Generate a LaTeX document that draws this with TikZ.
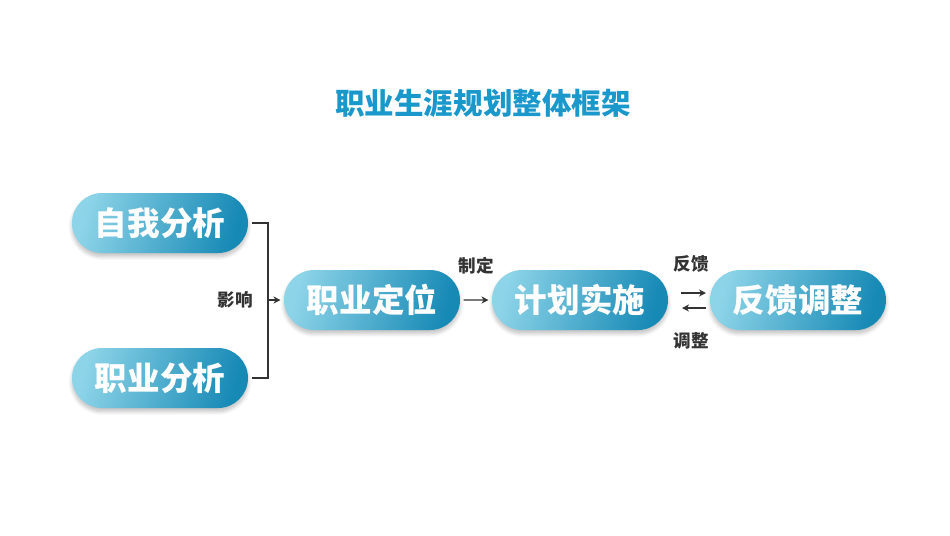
\documentclass[tikz,border=0pt]{standalone}
\usepackage{xcolor}
\usepackage{fontspec}
\setmainfont{Noto Sans CJK SC}
\usepackage{tikz}
\usetikzlibrary{positioning,shapes.misc,shadows.blur,arrows.meta}

\definecolor{pilllight}{HTML}{8DD4E8}
\definecolor{pilldark}{HTML}{1689B5}
\definecolor{titleblue}{HTML}{1A98CC}
\definecolor{linegray}{HTML}{333333}

\tikzset{
	pill/.style={rounded rectangle, minimum width=3.52cm, minimum height=1.2cm,
		outer sep=0pt, inner sep=0pt, left color=pilllight, right color=pilldark,
		shading angle=75,
		blur shadow={shadow xshift=0pt, shadow yshift=-2pt, shadow opacity=25, shadow blur steps=6},
		text=white, font=\fontsize{18.5}{21}\selectfont\bfseries},
	note/.style={text=linegray, font=\fontsize{10}{12}\selectfont\bfseries, inner sep=0pt},
	link/.style={draw=linegray, line width=0.8pt},
	flow/.style={link, -{Stealth[length=4pt,width=4pt]}},
}

\begin{document}
	\begin{tikzpicture}
		\useasboundingbox (0,0) rectangle (19,-10.7);
		\node[text=titleblue, font=\fontsize{16.8}{20}\selectfont\bfseries] (title) at (9.66,-2.06) {职业生涯规划整体框架};
		\node[pill] (pos) at (7.44,-6.0) {职业定位};
		\node[pill, left=0.72cm of pos, yshift=1.54cm] (self) {自我分析};
		\node[pill, left=0.72cm of pos, yshift=-1.56cm] (career) {职业分析};
		\node[pill, right=0.64cm of pos] (plan) {计划实施};
		\node[pill, right=0.84cm of plan] (fb) {反馈调整};
		\coordinate[left=0.32cm of pos] (join);
		\node[note, left=0.3cm of join] (influence) {影响};
		\draw[link, shorten <=2pt] (self) -| (join);
		\draw[link, shorten <=2pt] (career) -| (join);
		\draw[flow, shorten >=2pt] (join) -- (pos);
		\draw[flow, shorten <=2pt, shorten >=2pt] (pos) -- node[note, above=0.5cm] (make) {制定} (plan);
		\draw[flow] ([xshift=0.26cm, yshift=0.14cm]plan.east) -- ([xshift=-0.08cm, yshift=0.14cm]fb.west);
		\draw[flow] ([xshift=-0.08cm, yshift=-0.16cm]fb.west) -- ([xshift=0.28cm, yshift=-0.16cm]plan.east);
		\node[note] (feedback) at (13.82,-5.28) {反馈};
		\node[note] (adjust) at (13.82,-6.82) {调整};
	\end{tikzpicture}
\end{document}
